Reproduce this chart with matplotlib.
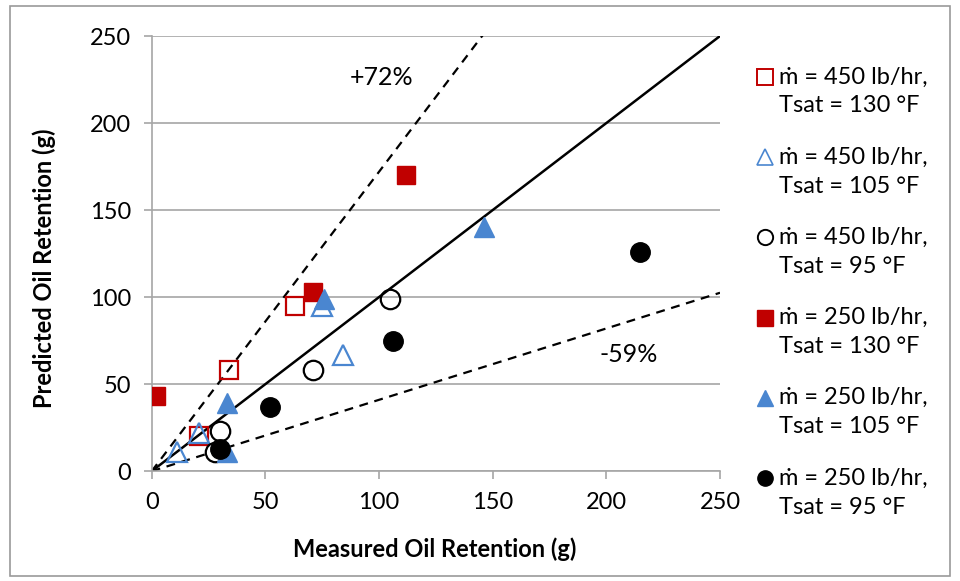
import matplotlib.pyplot as plt
import numpy as np
from matplotlib.lines import Line2D

plt.rcParams['font.family'] = ['Lato', 'DejaVu Sans']

# series: (measured, predicted) oil retention in g
m450_t130_x = [21, 34, 63]
m450_t130_y = [20, 58, 95]
m450_t105_x = [11, 21, 75, 84]
m450_t105_y = [11, 22, 95, 67]
m450_t95_x = [28, 30, 71, 105]
m450_t95_y = [11, 23, 58, 99]
m250_t130_x = [2, 71, 112]
m250_t130_y = [43, 103, 170]
m250_t105_x = [33, 33, 76, 146]
m250_t105_y = [11, 39, 99, 140]
m250_t95_x = [30, 52, 106, 215]
m250_t95_y = [13, 37, 75, 126]

legend_line1 = ["ṁ = 450 lb/hr,", "ṁ = 450 lb/hr,", "ṁ = 450 lb/hr,",
                "ṁ = 250 lb/hr,", "ṁ = 250 lb/hr,", "ṁ = 250 lb/hr,"]
legend_line2 = ["Tsat = 130 °F", "Tsat = 105 °F", "Tsat = 95 °F",
                "Tsat = 130 °F", "Tsat = 105 °F", "Tsat = 95 °F"]

red = "#C00000"
blue = "#4A86D0"
W, H = 960, 581

fig = plt.figure(figsize=(9.6, 5.81), dpi=100)
ax = fig.add_axes([0.158, 0.189, 0.592, 0.749])

# figure frame
fig.patches.append(plt.Rectangle((0.010, 0.008), 0.980, 0.982, transform=fig.transFigure,
                                 fill=False, edgecolor="#9a9a9a", linewidth=1.2))

# reference lines
xl = np.array([0, 250])
ax.plot(xl, xl, color="black", lw=1.8, zorder=2)
ax.plot(xl, 1.72 * xl, color="black", lw=1.6, ls=(0, (4, 3)), zorder=2)
ax.plot(xl, 0.41 * xl, color="black", lw=1.6, ls=(0, (4, 3)), zorder=2)
ax.text(101, 226, "+72%", fontsize=18, ha="center", va="center")
ax.text(210, 67, "-59%", fontsize=18, ha="center", va="center")

ms = 13
ax.plot(m450_t130_x, m450_t130_y, "s", ms=ms, mfc="none", mec=red, mew=1.6, ls="none", zorder=3)
ax.plot(m450_t105_x, m450_t105_y, "^", ms=ms + 2, mfc="none", mec=blue, mew=1.6, ls="none", zorder=3)
ax.plot(m450_t95_x, m450_t95_y, "o", ms=ms + 1, mfc="none", mec="black", mew=1.6, ls="none", zorder=3)
ax.plot(m250_t130_x, m250_t130_y, "s", ms=ms, mfc=red, mec=red, ls="none", zorder=3)
ax.plot(m250_t105_x, m250_t105_y, "^", ms=ms + 2, mfc=blue, mec=blue, ls="none", zorder=3)
ax.plot(m250_t95_x, m250_t95_y, "o", ms=ms + 1, mfc="black", mec="black", ls="none", zorder=3)

ax.set_xlim(0, 250)
ax.set_ylim(0, 250)
ax.set_xticks(np.arange(0, 251, 50))
ax.set_yticks(np.arange(0, 251, 50))
ax.grid(axis="y", color="#a6a6a6", lw=1.2)
ax.set_axisbelow(True)
for s in ["top", "right"]:
    ax.spines[s].set_visible(False)
for s in ["left", "bottom"]:
    ax.spines[s].set_color("#a6a6a6")
    ax.spines[s].set_linewidth(1.2)
ax.tick_params(axis="both", colors="#a6a6a6", labelcolor="black", labelsize=17,
               length=6, width=1.2, direction="out", pad=9)
ax.set_xlabel("Measured Oil Retention (g)", fontsize=17, fontweight="bold")
ax.set_ylabel("Predicted Oil Retention (g)", fontsize=17, fontweight="bold")
ax.xaxis.set_label_coords(0.498, -0.152)
ax.yaxis.set_label_coords(-0.168, 0.467)

# legend drawn by hand so the marker sits on the first text line
handles = [
    dict(marker="s", ms=11, mfc="none", mec=red, mew=1.4),
    dict(marker="^", ms=12, mfc="none", mec=blue, mew=1.2),
    dict(marker="o", ms=11, mfc="none", mec="black", mew=1.4),
    dict(marker="s", ms=11, mfc=red, mec=red),
    dict(marker="^", ms=12, mfc=blue, mec=blue),
    dict(marker="o", ms=11, mfc="black", mec="black"),
]
for i, (h, l1, l2) in enumerate(zip(handles, legend_line1, legend_line2)):
    y1 = 77 + 80.2 * i
    y2 = y1 + 29
    fig.add_artist(Line2D([765 / W], [1 - y1 / H], transform=fig.transFigure, ls="none", **h))
    fig.text(779 / W, 1 - y1 / H, l1, fontsize=17, ha="left", va="center")
    fig.text(779 / W, 1 - y2 / H, l2, fontsize=17, ha="left", va="center")

fig.savefig("out.png", dpi=100)
